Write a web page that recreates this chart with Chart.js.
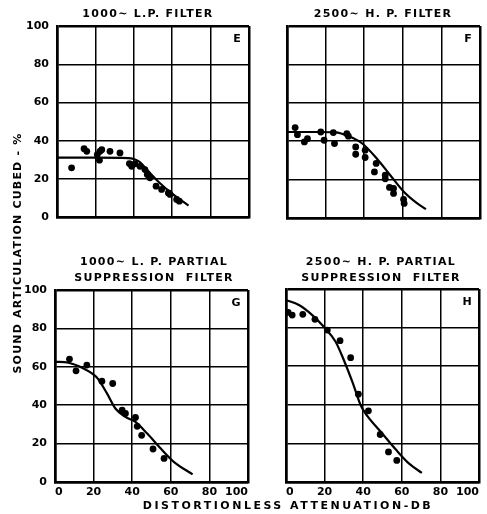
<!DOCTYPE html>
<html>
<head>
<meta charset="utf-8">
<script src="https://cdn.jsdelivr.net/npm/chart.js@4.4.1/dist/chart.umd.min.js"></script>
<style>
  body { margin: 0; background: #fff; }
  #wrap { position: relative; width: 487px; height: 514px; overflow: hidden; font-family: "DejaVu Sans", sans-serif; font-weight: bold; color: #000; }
  canvas { position: absolute; }
  .ttl { position: absolute; width: 220px; text-align: center; font-size: 11px; letter-spacing: 1.3px; line-height: 15.5px; white-space: nowrap; }
  #ytitle { position: absolute; width: 300px; height: 14px; line-height: 14px; text-align: center; font-size: 11px; letter-spacing: 1.2px;
            left: -132px; top: 246px; transform: rotate(-90deg); transform-origin: 150px 7px; white-space: nowrap; }
  #xtitle { position: absolute; width: 380px; left: 98px; top: 499px; text-align: center; font-size: 11px; letter-spacing: 2.5px; white-space: nowrap; }
</style>
</head>
<body>
<div id="wrap">
  <canvas id="cE"></canvas>
  <canvas id="cF"></canvas>
  <canvas id="cG"></canvas>
  <canvas id="cH"></canvas>
  <div class="ttl" style="left:38px; top:6px;">1000∼ L.P. FILTER</div>
  <div class="ttl" style="left:273px; top:6px;">2500∼ H. P. FILTER</div>
  <div class="ttl" style="left:44px; top:254px;">1000∼ L. P. PARTIAL<br>SUPPRESSION&nbsp; FILTER</div>
  <div class="ttl" style="left:271px; top:254px;">2500∼ H. P. PARTIAL<br>SUPPRESSION&nbsp; FILTER</div>
  <div id="ytitle">SOUND ARTICULATION CUBED - %</div>
  <div id="xtitle">DISTORTIONLESS ATTENUATION-DB</div>
</div>
<script>
// --- data ---
const axisTicks = [0, 20, 40, 60, 80, 100];

// E: 1000~ L.P. filter
const eDotX = [7.6, 14.1, 15.5, 21, 22.4, 22.1, 23.3, 27.6, 32.8, 37.7, 38.9, 40.6, 43.2, 45.8, 47, 48.4, 51.6, 54.5, 58, 58.9, 62.3, 63.7];
const eDotY = [25.9, 35.9, 34.5, 32.8, 34.5, 29.9, 35.4, 34.5, 33.7, 28.1, 26.7, 28, 26.7, 25, 22.4, 20.7, 16.3, 14.6, 12.8, 12, 9.4, 8.5];
const eCurveX = [0, 20, 37, 40, 43, 47.5, 53.5, 60.5, 68.5];
const eCurveY = [31.2, 31.2, 31, 30.5, 29, 24.2, 18, 12, 6.2];

// F: 2500~ H.P. filter
const fDotX = [4.2, 5.4, 9, 10.6, 17.5, 19.2, 24, 24.6, 31, 31.8, 35.6, 35.6, 40.5, 40.5, 46.2, 45.3, 50.9, 50.9, 53.1, 55.2, 55.2, 60.4, 60.7];
const fDotY = [47.1, 43.4, 39.6, 41.3, 44.8, 40.5, 44.5, 38.8, 43.9, 42.6, 37, 33.2, 35.3, 31.5, 28.4, 24, 22.3, 20.4, 15.9, 15.4, 12.8, 9.7, 7.6];
const fCurveX = [0, 15, 25, 32, 39, 46.5, 53.5, 60.5, 67, 72];
const fCurveY = [44.8, 44.8, 44.6, 42.6, 38.8, 31, 22.3, 13.7, 8, 4.6];

// G: 1000~ L.P. partial suppression filter
const gDotX = [7.5, 10.9, 16.5, 24.3, 29.9, 34.8, 36.5, 41.7, 42.6, 44.9, 50.8, 56.5];
const gDotY = [64, 57.9, 60.9, 52.5, 51.3, 37.4, 35.7, 33.6, 29, 24.3, 17.2, 12.3];
const gCurveX = [0, 7, 14.8, 21.7, 27, 31.3, 36.5, 41.7, 47.8, 54.8, 61.7, 71.3];
const gCurveY = [62.6, 62.1, 59.1, 54.4, 46, 38.3, 33.9, 31.3, 25.2, 17.4, 10.4, 4];

// H: 2500~ H.P. partial suppression filter
const hDotX = [1.1, 3.2, 8.7, 15, 21.4, 28, 33.5, 37.5, 42.7, 48.8, 53.1, 57.4];
const hDotY = [87.9, 86.5, 86.9, 84.3, 78.7, 73.2, 64.4, 45.5, 36.9, 24.6, 15.6, 11.2];
const hCurveX = [0, 6.7, 13.6, 19.6, 25.7, 30, 34.4, 38.7, 42.2, 49.1, 56.9, 63.8, 70.4];
const hCurveY = [94.3, 91.7, 86.5, 80.4, 72.7, 63.1, 51.9, 39.8, 34.1, 26, 16.8, 9.5, 4.7];

const tickFont = { family: "DejaVu Sans", size: 11, weight: "bold" };

function pairs(xs, ys) {
    return xs.map((x, i) => ({ x: x, y: ys[i] }));
}

// panel letter in the upper right corner
const letterPlugin = {
    id: 'panelLetter',
    afterDraw(chart, args, opts) {
        const a = chart.chartArea, ctx = chart.ctx;
        ctx.save();
        ctx.font = 'bold 11px "DejaVu Sans"';
        ctx.fillStyle = '#000';
        ctx.textAlign = 'center';
        ctx.textBaseline = 'middle';
        ctx.fillText(opts.text, a.right - 12, a.top + 13);
        ctx.restore();
    }
};

function gridWidth(c) {
    return (c.tick && (c.tick.value === 0 || c.tick.value === 100)) ? 2.5 : 1.5;
}

// box: canvas position/size (cl, ct, cw, ch) and plot rectangle (l, t, r, b)
function makePanel(id, box, dotX, dotY, curveX, curveY, letter, showY, showX) {
    const cv = document.getElementById(id);
    cv.style.left = box.cl + 'px';
    cv.style.top = box.ct + 'px';
    cv.width = box.cw; cv.height = box.ch;
    cv.style.width = box.cw + 'px'; cv.style.height = box.ch + 'px';

    const yWidth = box.l - box.cl;
    const xHeight = box.ct + box.ch - box.b;

    return new Chart(cv.getContext('2d'), {
        type: 'scatter',
        data: {
            datasets: [
                { data: pairs(dotX, dotY), backgroundColor: '#000', borderWidth: 0, pointRadius: 3.4, showLine: false },
                { data: pairs(curveX, curveY), borderColor: '#000', borderWidth: 2.2, pointRadius: 0,
                  showLine: true, cubicInterpolationMode: 'monotone', fill: false }
            ]
        },
        options: {
            responsive: false,
            animation: false,
            layout: { padding: { top: box.t - box.ct, right: box.cl + box.cw - box.r, left: 0, bottom: 0 } },
            plugins: { legend: { display: false }, tooltip: { enabled: false }, panelLetter: { text: letter } },
            scales: {
                x: {
                    type: 'linear', min: 0, max: 100,
                    afterBuildTicks: s => { s.ticks = axisTicks.map(v => ({ value: v })); },
                    afterFit: s => { s.height = xHeight; },
                    grid: { color: '#000', lineWidth: gridWidth, drawTicks: false },
                    border: { display: true, color: '#000', width: 2.5 },
                    ticks: { display: showX, color: '#000', font: tickFont, padding: 4, align: 'inner', maxRotation: 0 }
                },
                y: {
                    type: 'linear', min: 0, max: 100,
                    afterBuildTicks: s => { s.ticks = axisTicks.map(v => ({ value: v })); },
                    afterFit: s => { s.width = yWidth; },
                    grid: { color: '#000', lineWidth: gridWidth, drawTicks: false },
                    border: { display: true, color: '#000', width: 2.5 },
                    ticks: { display: showY, color: '#000', font: tickFont, padding: 8 }
                }
            }
        },
        plugins: [letterPlugin]
    });
}

makePanel('cE', { cl: 0, ct: 0, cw: 256, ch: 232, l: 57, t: 26, r: 249, b: 218 }, eDotX, eDotY, eCurveX, eCurveY, 'E', true, false);
makePanel('cF', { cl: 270, ct: 0, cw: 217, ch: 232, l: 287, t: 26, r: 480, b: 218 }, fDotX, fDotY, fCurveX, fCurveY, 'F', false, false);
makePanel('cG', { cl: 0, ct: 240, cw: 262, ch: 260, l: 55, t: 290, r: 248, b: 482 }, gDotX, gDotY, gCurveX, gCurveY, 'G', true, true);
makePanel('cH', { cl: 268, ct: 240, cw: 219, ch: 260, l: 286, t: 289, r: 479, b: 482 }, hDotX, hDotY, hCurveX, hCurveY, 'H', false, true);
</script>
</body>
</html>
